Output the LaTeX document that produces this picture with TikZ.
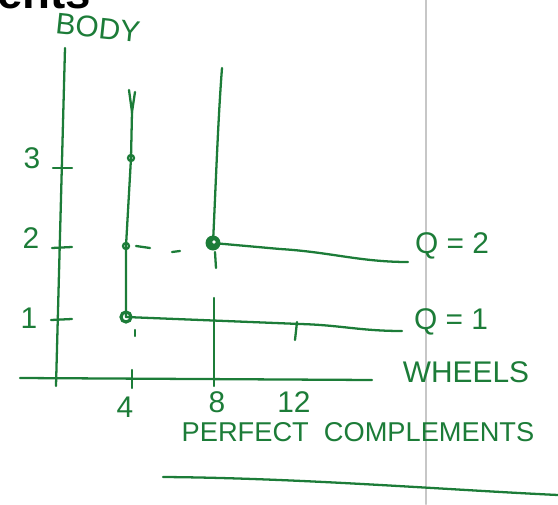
\documentclass[tikz,border=0pt]{standalone}
\usepackage{fontspec}
\setmainfont{Liberation Sans}
\usepackage{tikz}
\definecolor{pen}{RGB}{28,124,56}

\begin{document}
\begin{tikzpicture}[x=0.02cm,y=-0.02cm,line width=1.3pt,pen,line cap=round,
  hand/.style={font=\fontsize{17}{20}\selectfont,text=pen,inner sep=0pt}]
\useasboundingbox (0,0) rectangle (558,504);
\draw[black!22,line width=1.6pt] (426,0) -- (426,504);
\begin{scope}
\clip (0,0) rectangle (558,12);
\node[anchor=base west,black,inner sep=0pt,font=\bfseries\fontsize{26}{26}\selectfont] (frag) at (-4,8) {ents};
\end{scope}

\coordinate (ytop) at (65,48);
\coordinate (ybot) at (56,386);
\coordinate (xleft) at (20,378);
\coordinate (xright) at (372,380);
\draw (ytop) -- (ybot);
\draw (xleft) -- (xright);

\draw (51,320) -- (72,319);
\draw (52,248) -- (72,247);
\draw (53,168) -- (72,168);
\draw (132,370) -- (132,388);
\draw (214,368) -- (214,386);

\node[hand] (one) at (29,318) {1};
\node[hand] (two) at (31,238) {2};
\node[hand] (three) at (32,158) {3};
\node[hand] (four) at (125,407) {4};
\node[hand] (eight) at (217,402) {8};
\node[hand] (twelve) at (294,402) {12};
\node[hand,rotate=-6] (body) at (98,28) {BODY};

\coordinate (p3) at (131,158);
\coordinate (p2) at (126,246);
\coordinate (p1) at (126,317);
\coordinate (q2) at (213,243);
\coordinate (q2end) at (408,262);
\coordinate (q1end) at (402,331);

\draw (129,90) -- (132,112) -- (135,92);
\draw (132,112) -- (p3) -- (p2) -- (p1);
\draw (222,68) .. controls (218,120) and (216,180) .. (q2);
\draw (q2) -- (280,249) .. controls (330,252) and (360,262) .. (q2end);
\draw (p1) -- (300,324) .. controls (340,325) and (360,331) .. (q1end);
\draw (136,246) -- (150,248);
\draw (172,252) -- (180,251);
\draw (214,298) -- (214,368);
\draw (215,252) -- (216,268);
\draw (135,330) -- (135,336);
\draw (297,322) -- (295,340);

\draw (p3) circle (3);
\draw (p2) circle (3);
\draw[line width=1.8pt] (p1) circle (5);
\fill (q2) circle (7.5);
\fill[white] (214,242) circle (1.8);

\node[hand] (qtwo) at (452,246) {Q = 2};
\node[hand] (qone) at (451,322) {Q = 1};
\node[hand] (wheels) at (466,372) {WHEELS};
\node[hand,font=\fontsize{15.5}{18}\selectfont] (perfect) at (358,432) {PERFECT \ COMPLEMENTS};
\draw (163,477) .. controls (300,478) and (450,490) .. (558,495);
\end{tikzpicture}
\end{document}
